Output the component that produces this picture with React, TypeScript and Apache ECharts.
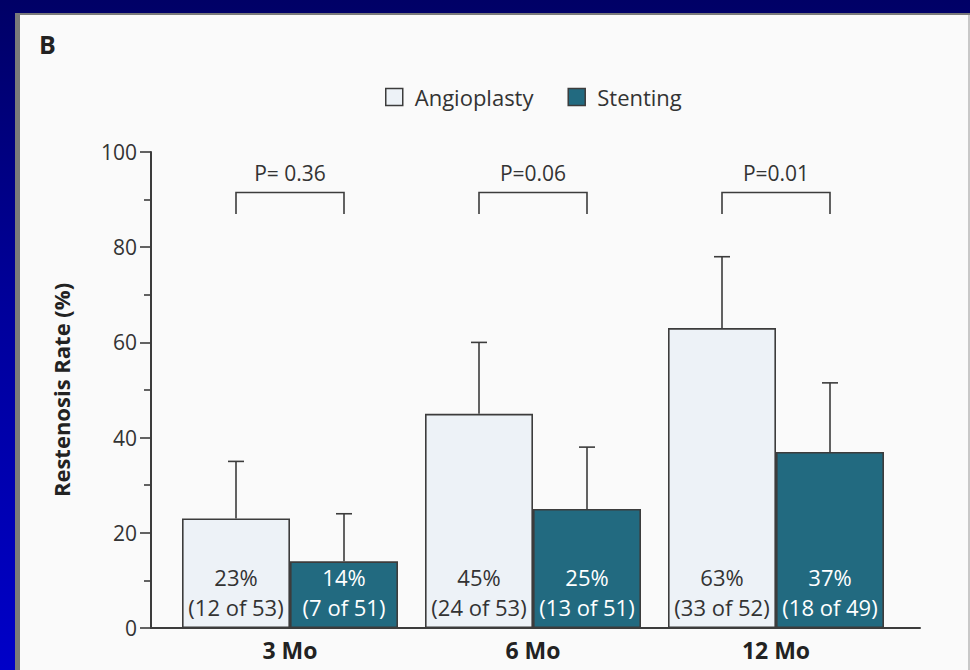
import React, { useEffect, useRef } from "react";
import * as echarts from "echarts";

// Restenosis rates by follow-up visit
const categories = ["3 Mo", "6 Mo", "12 Mo"];
const angioplastyRates = [23, 45, 63];
const stentingRates = [14, 25, 37];
const angioplastyCounts = ["(12 of 53)", "(24 of 53)", "(33 of 52)"];
const stentingCounts = ["(7 of 51)", "(13 of 51)", "(18 of 49)"];
// Upper end of each error bar
const angioplastyUpper = [35, 60, 78];
const stentingUpper = [24, 38, 51.5];
// Comparison brackets
const pValues = ["P= 0.36", "P=0.06", "P=0.01"];
const bracketTop = 91.5;
const bracketFoot = 87;
const pLabelLevel = 95.6;

const FONT = "'Open Sans', 'Noto Sans', sans-serif";
const INK = "#333333";
const AXIS = "#3c3c3c";
const LIGHT = "#edf2f7";
const TEAL = "#226a80";
const BAR_WIDTH = 108;

export default function App() {
  const ref = useRef<HTMLDivElement>(null);

  useEffect(() => {
    if (!ref.current) return;
    const chart = echarts.init(ref.current, undefined, { renderer: "svg" });

    const errorBar = (upper: number[], values: number[], side: number) => ({
      type: "custom",
      xAxisIndex: 0,
      yAxisIndex: 0,
      z: 5,
      silent: true,
      data: values.map((v, i) => [i, v, upper[i]]),
      renderItem: (params: any, api: any) => {
        const base = api.coord([api.value(0), api.value(1)]);
        const top = api.coord([api.value(0), api.value(2)]);
        const x = base[0] + (side * BAR_WIDTH) / 2;
        const style = { stroke: AXIS, lineWidth: 1.6, fill: "none" };
        return {
          type: "group",
          children: [
            { type: "line", shape: { x1: x, y1: base[1], x2: x, y2: top[1] }, style },
            { type: "line", shape: { x1: x - 8, y1: top[1], x2: x + 8, y2: top[1] }, style },
          ],
        };
      },
    });

    const barLabel = (counts: string[], color: string) => ({
      show: true,
      position: "insideBottom",
      distance: 6,
      formatter: (p: any) => `{a|${p.value}%}\n{b|${counts[p.dataIndex]}}`,
      rich: {
        a: { fontSize: 22, fontFamily: FONT, color, lineHeight: 30 },
        b: { fontSize: 22, fontFamily: FONT, color, lineHeight: 30 },
      },
    });

    chart.setOption({
      animation: false,
      backgroundColor: "transparent",
      textStyle: { fontFamily: FONT },
      title: {
        text: "B",
        left: 34,
        top: 26,
        textStyle: { fontSize: 25, fontWeight: "bold", color: "#222", fontFamily: FONT },
      },
      legend: {
        left: 380,
        top: 81,
        icon: "rect",
        itemWidth: 17,
        itemHeight: 17,
        itemGap: 34,
        textStyle: { fontSize: 22, color: INK, fontFamily: FONT, padding: [0, 0, 0, 7] },
        data: [
          { name: "Angioplasty", itemStyle: { color: LIGHT, borderColor: AXIS, borderWidth: 1.5 } },
          { name: "Stenting", itemStyle: { color: TEAL, borderColor: AXIS, borderWidth: 1.5 } },
        ],
      },
      grid: [
        { left: 168.5, top: 152, width: 729, height: 476 },
        { left: 151, top: 152, width: 769, height: 476 },
      ],
      xAxis: [
        {
          gridIndex: 0,
          type: "category",
          data: categories,
          axisLine: { show: false },
          axisTick: { show: false },
          axisLabel: {
            margin: 10,
            fontSize: 23,
            fontWeight: "bold",
            color: "#222",
            fontFamily: FONT,
          },
        },
        {
          gridIndex: 1,
          type: "value",
          min: 0,
          max: 1,
          axisLine: { show: true, lineStyle: { color: AXIS, width: 2 } },
          axisTick: { show: false },
          axisLabel: { show: false },
          splitLine: { show: false },
        },
      ],
      yAxis: [
        {
          gridIndex: 0,
          type: "value",
          min: 0,
          max: 100,
          interval: 20,
          show: false,
        },
        {
          gridIndex: 1,
          type: "value",
          min: 0,
          max: 100,
          interval: 20,
          name: "Restenosis Rate (%)",
          nameLocation: "middle",
          nameGap: 79,
          nameTextStyle: { fontSize: 22, fontWeight: "bold", color: "#222", fontFamily: FONT },
          axisLine: { show: true, lineStyle: { color: AXIS, width: 2 } },
          axisTick: { show: true, length: 11, lineStyle: { color: AXIS, width: 1.6 } },
          minorTick: { show: true, splitNumber: 2, length: 7, lineStyle: { color: AXIS, width: 1.6 } },
          axisLabel: { margin: 14, fontSize: 21, color: INK, fontFamily: FONT },
          splitLine: { show: false },
        },
      ],
      series: [
        {
          name: "Angioplasty",
          type: "bar",
          xAxisIndex: 0,
          yAxisIndex: 0,
          barWidth: BAR_WIDTH,
          barGap: "0%",
          data: angioplastyRates,
          itemStyle: { color: LIGHT, borderColor: AXIS, borderWidth: 1.6 },
          label: barLabel(angioplastyCounts, INK),
        },
        {
          name: "Stenting",
          type: "bar",
          xAxisIndex: 0,
          yAxisIndex: 0,
          barWidth: BAR_WIDTH,
          barGap: "0%",
          data: stentingRates,
          itemStyle: { color: TEAL, borderColor: AXIS, borderWidth: 1.6 },
          label: barLabel(stentingCounts, "#ffffff"),
        },
        errorBar(angioplastyUpper, angioplastyRates, -1),
        errorBar(stentingUpper, stentingRates, 1),
        {
          type: "custom",
          xAxisIndex: 0,
          yAxisIndex: 0,
          silent: true,
          data: pValues.map((p, i) => [i, bracketTop, bracketFoot, pLabelLevel]),
          renderItem: (params: any, api: any) => {
            const top = api.coord([api.value(0), api.value(1)]);
            const foot = api.coord([api.value(0), api.value(2)]);
            const lbl = api.coord([api.value(0), api.value(3)]);
            const half = BAR_WIDTH / 2;
            return {
              type: "group",
              children: [
                {
                  type: "polyline",
                  shape: {
                    points: [
                      [top[0] - half, foot[1]],
                      [top[0] - half, top[1]],
                      [top[0] + half, top[1]],
                      [top[0] + half, foot[1]],
                    ],
                  },
                  style: { stroke: AXIS, lineWidth: 1.6, fill: "none" },
                },
                {
                  type: "text",
                  x: lbl[0],
                  y: lbl[1],
                  style: {
                    text: pValues[params.dataIndex],
                    fontSize: 21,
                    fontFamily: FONT,
                    fill: INK,
                    align: "center",
                    verticalAlign: "middle",
                  },
                },
              ],
            };
          },
        },
      ],
    });

    return () => chart.dispose();
  }, []);

  return (
    <div
      style={{
        position: "fixed",
        left: 0,
        top: 0,
        width: 970,
        height: 670,
        background: "linear-gradient(to bottom, #000066 0%, #00009a 45%, #0000c8 100%)",
        overflow: "hidden",
      }}
    >
      <div
        style={{
          position: "absolute",
          left: 15,
          top: 13,
          width: 955,
          height: 657,
          background: "#7a7a7a",
        }}
      />
      <div
        style={{
          position: "absolute",
          left: 20,
          top: 15,
          width: 948,
          height: 655,
          background: "#fafafa",
          borderRight: "2px solid #c8c8c8",
        }}
      />
      <div ref={ref} style={{ position: "absolute", left: 0, top: 0, width: 970, height: 670 }} />
    </div>
  );
}
